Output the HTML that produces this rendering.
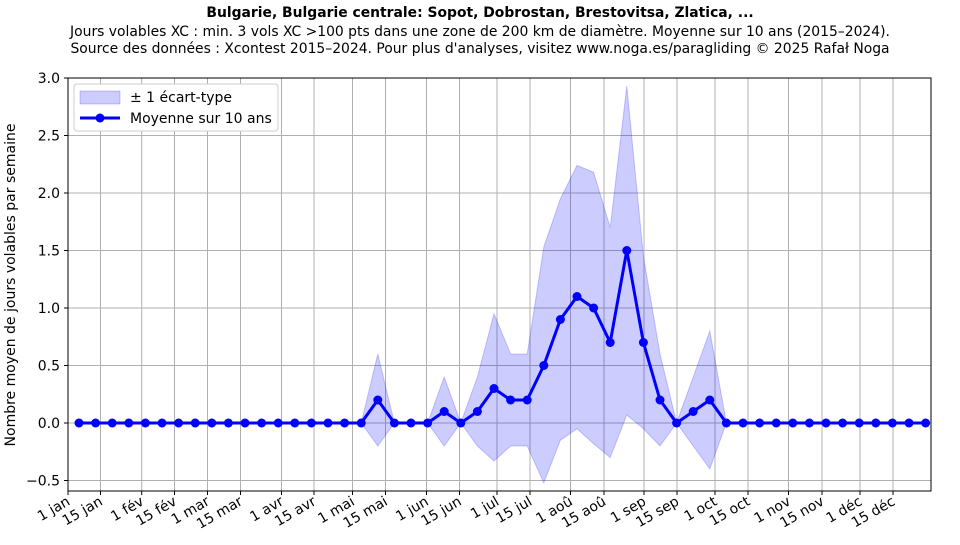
<!DOCTYPE html>
<html><head><meta charset="utf-8"><style>
body{margin:0;background:#fff;}
svg text{font-family:"DejaVu Sans","Liberation Sans",sans-serif;fill:#000;}
</style></head><body>
<svg id="s" width="960" height="540" xmlns="http://www.w3.org/2000/svg">
<rect width="960" height="540" fill="#fff"/>
<text x="480" y="17" text-anchor="middle" font-size="13.9" font-weight="bold">Bulgarie, Bulgarie centrale: Sopot, Dobrostan, Brestovitsa, Zlatica, ...</text>
<text x="480" y="36" text-anchor="middle" font-size="13.9">Jours volables XC : min. 3 vols XC &gt;100 pts dans une zone de 200 km de diamètre. Moyenne sur 10 ans (2015–2024).</text>
<text x="480" y="53" text-anchor="middle" font-size="13.9">Source des données : Xcontest 2015–2024. Pour plus d'analyses, visitez www.noga.es/paragliding © 2025 Rafał Noga</text>
<g id="grid"></g>
<path id="band" fill="#0000ff" fill-opacity="0.2" stroke="#0000ff" stroke-opacity="0.2"/>
<polyline id="line" fill="none" stroke="#0000ff" stroke-width="3"/>
<g id="dots" fill="#0000ff"></g>
<rect x="68" y="78" width="863" height="413" fill="none" stroke="#000" stroke-width="1"/>
<text transform="translate(15,285) rotate(-90)" text-anchor="middle" font-size="14">Nombre moyen de jours volables par semaine</text>
<g>
<rect x="74" y="84" width="204" height="47" fill="#fff" stroke="#ccc" rx="3"/>
<rect x="80" y="91" width="40" height="13" fill="#0000ff" fill-opacity="0.2" stroke="#0000ff" stroke-opacity="0.2"/>
<text x="130" y="102" font-size="14">± 1 écart-type</text>
<line x1="80" y1="118" x2="120" y2="118" stroke="#0000ff" stroke-width="3"/>
<circle cx="100" cy="118" r="4.5" fill="#0000ff"/>
<text x="130" y="123" font-size="14">Moyenne sur 10 ans</text>
</g>
</svg>
<script>
const Y=v=>423-v*115;
const X=i=>79+i*16.6;
let g=document.getElementById('grid'),h='';
[3,2.5,2,1.5,1,0.5,0,-0.5].forEach(v=>{let y=Y(v);h+=`<line x1="68" x2="931" y1="${y}" y2="${y}" stroke="#b0b0b0" stroke-width="1"/><line x1="64" x2="68" y1="${y}" y2="${y}" stroke="#000"/><text x="60" y="${y+5}" text-anchor="end" font-size="14">${v<0?'−0.5':v.toFixed(1)}</text>`;});
const ticks=[[68,'1 jan'],[100.5,'15 jan'],[141.7,'1 fév'],[174.5,'15 fév'],[207.5,'1 mar'],[240.5,'15 mar'],[281.5,'1 avr'],[314,'15 avr'],[352.5,'1 mai'],[385.5,'15 mai'],[426.5,'1 jun'],[459.5,'15 jun'],[497,'1 jul'],[530,'15 jul'],[570.5,'1 aoû'],[604,'15 aoû'],[644,'1 sep'],[677,'15 sep'],[715,'1 oct'],[748,'15 oct'],[788.5,'1 nov'],[822,'15 nov'],[860,'1 déc'],[893,'15 déc']];
ticks.forEach(([x,t])=>{h+=`<line x1="${x}" x2="${x}" y1="78" y2="491" stroke="#b0b0b0"/><line x1="${x}" x2="${x}" y1="491" y2="495" stroke="#000"/><text transform="translate(${x+3},${504}) rotate(-30)" text-anchor="end" font-size="14">${t}</text>`;});
g.innerHTML=h;
let m=new Array(52).fill(0),up=new Array(52).fill(0),lo=new Array(52).fill(0);
const d={18:[0.2,0.6,-0.2],22:[0.1,0.4,-0.2],24:[0.1,0.4,-0.2],25:[0.3,0.95,-0.33],26:[0.2,0.6,-0.2],27:[0.2,0.6,-0.2],28:[0.5,1.53,-0.52],29:[0.9,1.95,-0.15],30:[1.1,2.24,-0.05],31:[1.0,2.18,-0.18],32:[0.7,1.7,-0.3],33:[1.5,2.93,0.07],34:[0.7,1.45,-0.05],35:[0.2,0.6,-0.2],37:[0.1,0.4,-0.2],38:[0.2,0.8,-0.4]};
for(const k in d){m[k]=d[k][0];up[k]=d[k][1];lo[k]=d[k][2];}
let p='M',pts=[];
for(let i=0;i<52;i++)p+=X(i)+','+Y(up[i])+' L';
for(let i=51;i>=0;i--)p+=X(i)+','+Y(lo[i])+(i?' L':' Z');
document.getElementById('band').setAttribute('d',p);
let dh='';
for(let i=0;i<52;i++){pts.push(X(i)+','+Y(m[i]));dh+=`<circle cx="${X(i)}" cy="${Y(m[i])}" r="4.5"/>`;}
document.getElementById('line').setAttribute('points',pts.join(' '));
document.getElementById('dots').innerHTML=dh;
</script>
</body></html>
